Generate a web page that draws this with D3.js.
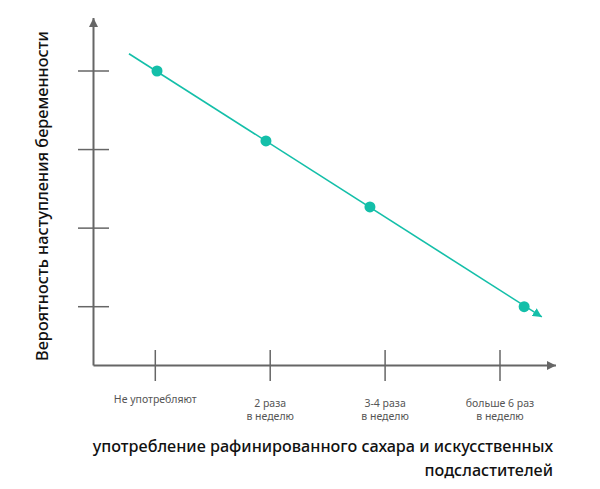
<!DOCTYPE html>
<html>
<head>
<meta charset="utf-8">
<script src="https://cdn.jsdelivr.net/npm/d3@7"></script>
<style>
  body { margin: 0; background: #fff; }
  text { font-family: "Noto Sans", sans-serif; }
</style>
</head>
<body>
<div id="chart"></div>
<script>
// categories along x (index positions 0..3)
let categories = [0, 1, 2, 3];
let categoryLabels = [["Не употребляют"], ["2 раза", "в неделю"], ["3-4 раза", "в неделю"], ["больше 6 раз", "в неделю"]];
// y ticks (unlabelled)
let yTicks = [1, 2, 3, 4];
// points
let pointX = [0.015, 0.963, 1.868, 3.21];
let pointY = [4.0, 3.11, 2.27, 1.0];
// trend line ends
let lineX = [-0.229, 3.364];
let lineY = [4.22, 0.87];

let w = 600, h = 489;
let axisColor = "#666";
let teal = "#14bfa9";

let svg = d3.select("#chart").append("svg")
    .attr("width", w)
    .attr("height", h);

// scales
let x = d3.scaleLinear().domain([0, 3]).range([155.3, 500]);
let y = d3.scaleLinear().domain([1, 4]).range([306.7, 71]);

let x0 = x.invert(93.5), x1 = x.invert(556);
let y0 = y.invert(365.5), y1 = y.invert(18);

// arrow markers
let defs = svg.append("defs");
defs.append("marker")
    .attr("id", "arrGrey")
    .attr("viewBox", "0 0 10 10")
    .attr("refX", 10).attr("refY", 5)
    .attr("markerWidth", 9).attr("markerHeight", 9)
    .attr("markerUnits", "userSpaceOnUse")
    .attr("orient", "auto")
    .append("path").attr("d", "M0,0L10,5L0,10Z").attr("fill", axisColor);
defs.append("marker")
    .attr("id", "arrTeal")
    .attr("viewBox", "0 0 10 10")
    .attr("refX", 10).attr("refY", 5)
    .attr("markerWidth", 9).attr("markerHeight", 9)
    .attr("markerUnits", "userSpaceOnUse")
    .attr("orient", "auto")
    .append("path").attr("d", "M0,0L10,5L0,10Z").attr("fill", teal);

// axes
svg.append("line")
    .attr("x1", x(x0)).attr("x2", x(x0))
    .attr("y1", y(y0)).attr("y2", y(y1))
    .attr("stroke", axisColor).attr("stroke-width", 2)
    .attr("marker-end", "url(#arrGrey)");
svg.append("line")
    .attr("x1", x(x0)).attr("x2", x(x1))
    .attr("y1", y(y0)).attr("y2", y(y0))
    .attr("stroke", axisColor).attr("stroke-width", 2)
    .attr("marker-end", "url(#arrGrey)");

// y ticks crossing the axis
svg.append("g").selectAll("line")
    .data(yTicks)
    .enter().append("line")
    .attr("x1", x(x0) - 15.5).attr("x2", x(x0) + 15.5)
    .attr("y1", d => y(d)).attr("y2", d => y(d))
    .attr("stroke", axisColor).attr("stroke-width", 1.5);

// x ticks crossing the axis
svg.append("g").selectAll("line")
    .data(categories)
    .enter().append("line")
    .attr("x1", d => x(d)).attr("x2", d => x(d))
    .attr("y1", y(y0) - 15.5).attr("y2", y(y0) + 15.5)
    .attr("stroke", axisColor).attr("stroke-width", 1.5);

// x tick labels
let lbl = svg.append("g").selectAll("text")
    .data(categories)
    .enter().append("text")
    .attr("text-anchor", "middle")
    .attr("font-size", 10.5)
    .attr("fill", "#555")
    .attr("x", d => x(d))
    .attr("y", d => categoryLabels[d].length > 1 ? 407 : 403);
lbl.selectAll("tspan")
    .data(d => categoryLabels[d].map(t => ({t: t, d: d})))
    .enter().append("tspan")
    .attr("x", o => x(o.d))
    .attr("dy", (o, i) => i === 0 ? 0 : 12.5)
    .text(o => o.t);

// trend line
svg.append("line")
    .attr("x1", x(lineX[0])).attr("y1", y(lineY[0]))
    .attr("x2", x(lineX[1])).attr("y2", y(lineY[1]))
    .attr("stroke", teal).attr("stroke-width", 1.6)
    .attr("marker-end", "url(#arrTeal)");

// points
svg.append("g").selectAll("circle")
    .data(pointX)
    .enter().append("circle")
    .attr("cx", d => x(d))
    .attr("cy", (d, i) => y(pointY[i]))
    .attr("r", 5.5)
    .attr("fill", teal);

// axis titles
svg.append("text")
    .attr("transform", "translate(48,196) rotate(-90)")
    .attr("text-anchor", "middle")
    .attr("font-size", 16.3)
    .attr("font-weight", 500)
    .attr("fill", "#111")
    .text("Вероятность наступления беременности");

svg.append("text")
    .attr("x", 553).attr("y", 452)
    .attr("text-anchor", "end")
    .attr("font-size", 16.2)
    .attr("font-weight", 500)
    .attr("fill", "#111")
    .text("употребление рафинированного сахара и искусственных");
svg.append("text")
    .attr("x", 553).attr("y", 476)
    .attr("text-anchor", "end")
    .attr("font-size", 16.2)
    .attr("font-weight", 500)
    .attr("fill", "#111")
    .text("подсластителей");
</script>
</body>
</html>
